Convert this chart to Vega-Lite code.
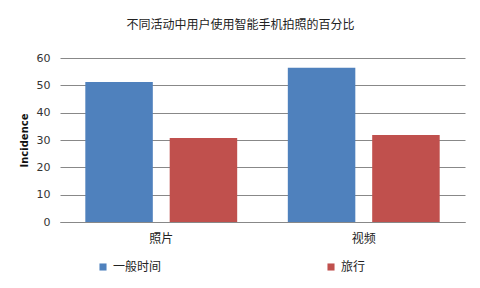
{
  "$schema": "https://vega.github.io/schema/vega-lite/v6.json",
  "width": 405,
  "height": 164,
  "autosize": {"type": "none"},
  "padding": {"left": 60, "top": 58, "right": 15, "bottom": 66},
  "background": "white",
  "title": {
    "text": "不同活动中用户使用智能手机拍照的百分比",
    "font": "Noto Sans CJK SC",
    "fontSize": 12,
    "fontWeight": "normal",
    "color": "#222222",
    "anchor": "middle",
    "dx": -22,
    "offset": 20
  },
  "data": {
    "values": [
      {"category": "照片", "series": "一般时间", "value": 51.2},
      {"category": "照片", "series": "旅行", "value": 30.7},
      {"category": "视频", "series": "一般时间", "value": 56.4},
      {"category": "视频", "series": "旅行", "value": 31.8}
    ]
  },
  "mark": {"type": "bar"},
  "encoding": {
    "x": {
      "field": "category",
      "type": "nominal",
      "sort": ["照片", "视频"],
      "scale": {"paddingInner": 0.25, "paddingOuter": 0.125},
      "axis": {
        "title": null,
        "labelAngle": 0,
        "ticks": false,
        "labelPadding": 11,
        "labelFont": "Noto Sans CJK SC",
        "labelFontSize": 12,
        "labelColor": "#222222",
        "domainColor": "#888888"
      }
    },
    "xOffset": {
      "field": "series",
      "type": "nominal",
      "sort": ["一般时间", "旅行"],
      "scale": {"paddingInner": 0.2, "paddingOuter": 0}
    },
    "y": {
      "field": "value",
      "type": "quantitative",
      "scale": {"domain": [0, 60]},
      "axis": {
        "title": "Incidence",
        "titleFont": "DejaVu Sans",
        "titleFontSize": 10,
        "titleFontWeight": "bold",
        "titleColor": "#111111",
        "titlePadding": 7,
        "values": [0, 10, 20, 30, 40, 50, 60],
        "labelFont": "DejaVu Sans",
        "labelFontSize": 11,
        "labelColor": "#333333",
        "labelPadding": 10,
        "ticks": false,
        "domain": false,
        "grid": true,
        "gridColor": "#888888",
        "gridWidth": 1
      }
    },
    "color": {
      "field": "series",
      "type": "nominal",
      "sort": ["一般时间", "旅行"],
      "scale": {"domain": ["一般时间", "旅行"], "range": ["#4F81BD", "#C0504D"]},
      "legend": {
        "title": null,
        "orient": "none",
        "legendX": 37,
        "legendY": 203,
        "direction": "horizontal",
        "columns": 2,
        "columnPadding": 163,
        "symbolType": "square",
        "symbolSize": 50,
        "symbolStrokeWidth": 0,
        "labelFont": "Noto Sans CJK SC",
        "labelFontSize": 12,
        "labelColor": "#222222"
      }
    }
  },
  "config": {"view": {"stroke": null}}
}
